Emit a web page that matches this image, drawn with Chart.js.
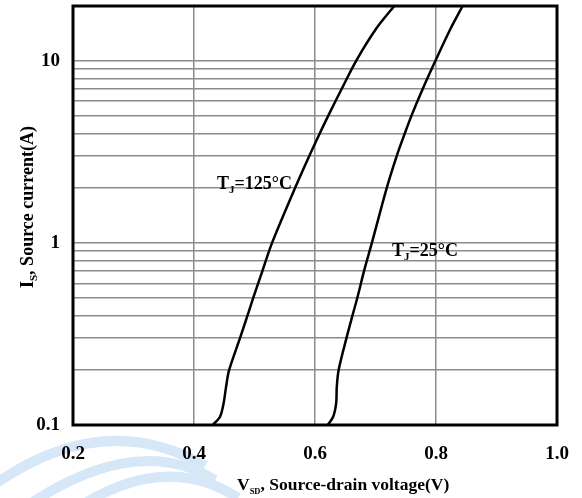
<!DOCTYPE html>
<html>
<head>
<meta charset="utf-8">
<script src="https://cdn.jsdelivr.net/npm/chart.js@4/dist/chart.umd.min.js"></script>
<style>
	html, body { margin: 0; padding: 0; background: #fff; }
	#wrap { width: 582px; height: 498px; }
</style>
</head>
<body>
<div id="wrap"><canvas id="chart" width="582" height="498"></canvas></div>
<script>
	// source current (A)
	const currents = [0.1, 0.111, 0.132, 0.162, 0.2, 0.3, 0.4, 0.5, 0.7, 1, 2, 3, 4, 5, 7, 10, 15, 20];
	// forward voltage (V) at each current
	const vsd125 = [0.431, 0.443, 0.449, 0.453, 0.458, 0.476, 0.4885, 0.498, 0.513, 0.529, 0.567, 0.5905, 0.608, 0.622, 0.644, 0.668, 0.701, 0.731];
	const vsd25 = [0.621, 0.630, 0.635, 0.636, 0.639, 0.652, 0.662, 0.670, 0.681, 0.694, 0.7185, 0.735, 0.7485, 0.7595, 0.778, 0.799, 0.824, 0.844];

	const yGrid = [0.1, 0.2, 0.3, 0.4, 0.5, 0.6, 0.7, 0.8, 0.9, 1, 2, 3, 4, 5, 6, 7, 8, 9, 10];
	const yLabels = [0.1, 1, 10];
	const xTicks = [0.2, 0.4, 0.6, 0.8, 1.0];

	const SERIF = "'Liberation Serif', 'Times New Roman', serif";

	const toPoints = (xs) => xs.map((v, i) => ({ x: v, y: currents[i] }));

	// text with a subscript part: [main, sub, rest]
	function drawSub(ctx, x, y, parts, size, subSize) {
		ctx.font = `bold ${size}px ${SERIF}`;
		ctx.fillText(parts[0], x, y);
		x += ctx.measureText(parts[0]).width;
		ctx.font = `bold ${subSize}px ${SERIF}`;
		ctx.fillText(parts[1], x, y + size * 0.22);
		x += ctx.measureText(parts[1]).width;
		ctx.font = `bold ${size}px ${SERIF}`;
		ctx.fillText(parts[2], x, y);
	}

	// faint logo swoosh behind the bottom-left corner
	const watermark = {
		id: "watermark",
		beforeDraw(chart) {
			const { ctx } = chart;
			ctx.save();
			ctx.strokeStyle = "#d6e7f8";
			ctx.lineWidth = 10;
			const bands = [
				[[-5, 484], [105, 408], [205, 466]],
				[[28, 505], [138, 432], [215, 480]],
				[[82, 505], [168, 452], [238, 498]],
			];
			bands.forEach(([a, c, b]) => {
				ctx.beginPath();
				ctx.moveTo(a[0], a[1]);
				ctx.quadraticCurveTo(c[0], c[1], b[0], b[1]);
				ctx.stroke();
			});
			ctx.restore();
		},
	};

	const annotations = {
		id: "annotations",
		afterDraw(chart) {
			const { ctx, chartArea } = chart;
			ctx.save();
			ctx.fillStyle = "#000";
			ctx.textBaseline = "alphabetic";
			ctx.textAlign = "left";

			drawSub(ctx, 217, 189, ["T", "J", "=125°C"], 18, 11);
			drawSub(ctx, 392, 256, ["T", "J", "=25°C"], 18, 11);

			// x title
			drawSub(ctx, 237, 490, ["V", "SD", ", Source-drain voltage(V)"], 17.5, 8.5);

			// y title
			ctx.translate(33, 288);
			ctx.rotate(-Math.PI / 2);
			drawSub(ctx, 0, 0, ["I", "S", ", Source current(A)"], 18, 11);
			ctx.restore();

			// frame
			ctx.save();
			ctx.strokeStyle = "#000";
			ctx.lineWidth = 3;
			ctx.strokeRect(chartArea.left, chartArea.top, chartArea.right - chartArea.left, chartArea.bottom - chartArea.top);
			ctx.restore();
		},
	};

	const lineStyle = {
		borderColor: "#000",
		borderWidth: 2.5,
		pointRadius: 0,
		fill: false,
		tension: 0.3,
	};

	new Chart(document.getElementById("chart"), {
		type: "scatter",
		data: {
			datasets: [
				{ label: "TJ=125°C", data: toPoints(vsd125), showLine: true, ...lineStyle },
				{ label: "TJ=25°C", data: toPoints(vsd25), showLine: true, ...lineStyle },
			],
		},
		options: {
			responsive: false,
			animation: false,
			layout: { padding: { top: 6, right: 25, left: 0, bottom: 0 } },
			plugins: { legend: { display: false }, tooltip: { enabled: false } },
			scales: {
				x: {
					type: "linear",
					min: 0.2,
					max: 1.0,
					afterBuildTicks: (axis) => { axis.ticks = xTicks.map((v) => ({ value: v })); },
					afterFit: (axis) => {
						axis.height = 73;
						axis.paddingLeft = 0;
						axis.paddingRight = 0;
					},
					grid: { color: "#8c8c8c", lineWidth: 1.5, drawTicks: false },
					border: { display: false },
					ticks: {
						padding: 18,
						color: "#000",
						font: { family: SERIF, size: 19, weight: "bold" },
						callback: (v) => Number(v).toFixed(1),
					},
				},
				y: {
					type: "logarithmic",
					min: 0.1,
					max: 20,
					afterBuildTicks: (axis) => { axis.ticks = yGrid.map((v) => ({ value: v })); },
					afterFit: (axis) => {
						axis.width = 73;
						axis.paddingTop = 0;
						axis.paddingBottom = 0;
					},
					grid: { color: "#8c8c8c", lineWidth: 1.5, drawTicks: false },
					border: { display: false },
					ticks: {
						padding: 13,
						autoSkip: false,
						color: "#000",
						font: { family: SERIF, size: 19, weight: "bold" },
						callback: (v) => (yLabels.includes(v) ? String(v) : ""),
					},
				},
			},
		},
		plugins: [watermark, annotations],
	});
</script>
</body>
</html>
